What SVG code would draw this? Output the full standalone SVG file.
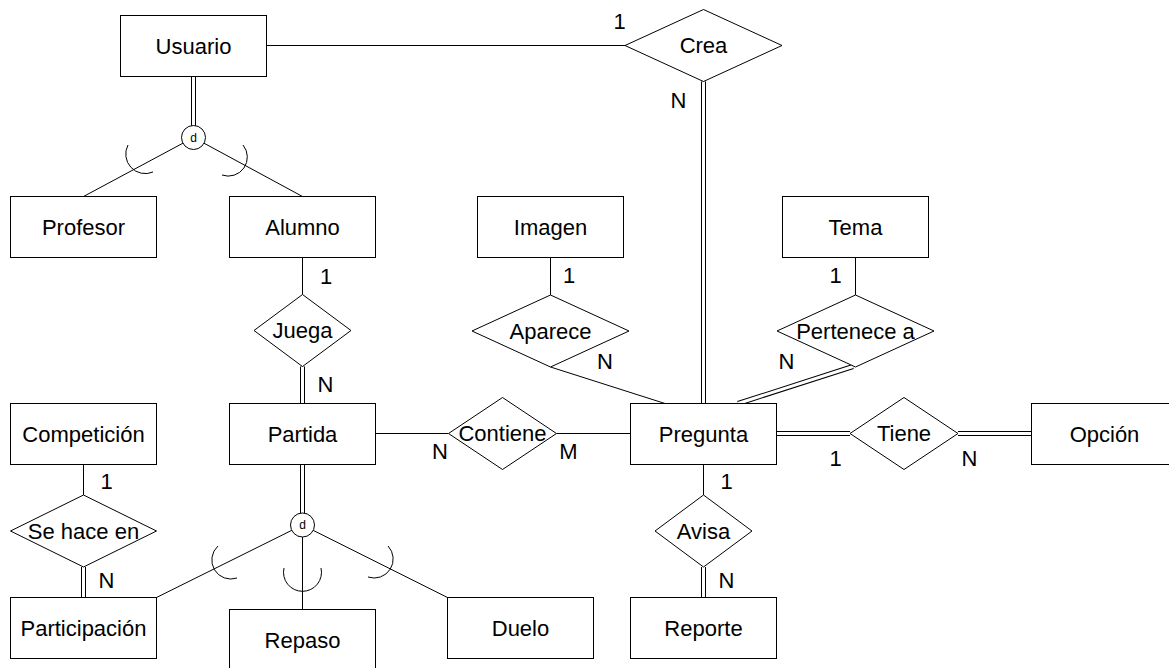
<svg xmlns="http://www.w3.org/2000/svg" width="1169" height="668" viewBox="0 0 1169 668">
  <style>
    .ent { fill: #ffffff; stroke: #000000; stroke-width: 1; }
    .rel { fill: #ffffff; stroke: #000000; stroke-width: 1; }
    .disc { fill: #ffffff; stroke: #000000; stroke-width: 1; }
    .ln { fill: none; stroke: #000000; stroke-width: 1; }
    .dbl-out { fill: none; stroke: #000000; stroke-width: 5; stroke-linecap: butt; }
    .dbl-in { fill: none; stroke: #ffffff; stroke-width: 3; stroke-linecap: butt; }
    .arc { fill: none; stroke: #000000; stroke-width: 1; }
    text { font-family: "Liberation Sans", Arial, Helvetica, sans-serif; font-size: 22px; fill: #000000; text-anchor: middle; }
    .small { font-size: 12px; }
  </style>
  <rect width="1169" height="668" fill="#ffffff"/>

  <!-- connectors -->
  <g id="connectors">
    <!-- single participation lines -->
    <line class="ln" x1="266.5" y1="45.5" x2="625" y2="45.5"/>
    <line class="ln" x1="193.5" y1="137.5" x2="83.5" y2="196.5"/>
    <line class="ln" x1="193.5" y1="137.5" x2="302.5" y2="196.5"/>
    <line class="ln" x1="302.5" y1="257.5" x2="302.5" y2="294.5"/>
    <line class="ln" x1="550.5" y1="257.5" x2="550.5" y2="295"/>
    <line class="ln" x1="550.5" y1="367" x2="665" y2="403.5"/>
    <line class="ln" x1="855.5" y1="257.5" x2="855.5" y2="295"/>
    <line class="ln" x1="375.5" y1="433.5" x2="448.5" y2="433.5"/>
    <line class="ln" x1="556.5" y1="433.5" x2="630.5" y2="433.5"/>
    <line class="ln" x1="83.5" y1="464.5" x2="83.5" y2="495"/>
    <line class="ln" x1="703.5" y1="464.5" x2="703.5" y2="495"/>
    <line class="ln" x1="302.5" y1="525" x2="156.5" y2="597.5"/>
    <line class="ln" x1="302.5" y1="525" x2="302.5" y2="609.5"/>
    <line class="ln" x1="302.5" y1="525" x2="447.5" y2="597.5"/>

    <!-- double (total participation) lines -->
    <g id="total-participation">
      <path class="dbl-out" d="M193.5,76.5 V126 M703.5,81.5 V403.5 M302.5,366.5 V403.5 M853,366.5 L738,403.5 M776.5,433.5 H850 M958,433.5 H1031.5 M302.5,464.5 V513.5 M83.5,567 V597.5 M703.5,567 V597.5"/>
      <path class="dbl-in" d="M193.5,76.5 V126 M703.5,81.5 V403.5 M302.5,366.5 V403.5 M853,366.5 L738,403.5 M776.5,433.5 H850 M958,433.5 H1031.5 M302.5,464.5 V513.5 M83.5,567 V597.5 M703.5,567 V597.5"/>
    </g>

    <!-- subset marks on specialization lines -->
    <g id="subset-marks">
      <path class="arc" d="M128,145 A19.5,19.5 0 0 0 153,172"/>
      <path class="arc" d="M243,145 A19,19 0 0 1 222,175"/>
      <path class="arc" d="M218,546 A19,19 0 0 0 237,578"/>
      <path class="arc" d="M284,568 A19,19 0 1 0 321,568"/>
      <path class="arc" d="M388,546 A19,19 0 0 1 368,577"/>
    </g>

    <!-- cardinalities -->
    <g id="cardinalities">
      <text x="619.5" y="29">1</text>
      <text x="678.5" y="107.5">N</text>
      <text x="326" y="284">1</text>
      <text x="325.5" y="391.5">N</text>
      <text x="569" y="282.5">1</text>
      <text x="605" y="369">N</text>
      <text x="835.5" y="282.5">1</text>
      <text x="786.5" y="369">N</text>
      <text x="440" y="459">N</text>
      <text x="568.5" y="459">M</text>
      <text x="835.5" y="465.5">1</text>
      <text x="969.5" y="465.5">N</text>
      <text x="726.5" y="489">1</text>
      <text x="726.5" y="587.5">N</text>
      <text x="106.5" y="489">1</text>
      <text x="106.5" y="587.5">N</text>
    </g>
  </g>

  <!-- entities -->
  <g id="usuario"><rect class="ent" x="120.5" y="15.5" width="146" height="61"/><text x="193.5" y="53.5">Usuario</text></g>
  <g id="profesor"><rect class="ent" x="10.5" y="196.5" width="146" height="61"/><text x="83.5" y="234.5">Profesor</text></g>
  <g id="alumno"><rect class="ent" x="229.5" y="196.5" width="146" height="61"/><text x="302.5" y="234.5">Alumno</text></g>
  <g id="imagen"><rect class="ent" x="477.5" y="196.5" width="146" height="61"/><text x="550.5" y="234.5">Imagen</text></g>
  <g id="tema"><rect class="ent" x="782.5" y="196.5" width="146" height="61"/><text x="855.5" y="234.5">Tema</text></g>
  <g id="competicion"><rect class="ent" x="10.5" y="403.5" width="146" height="61"/><text x="83.5" y="441.5">Competición</text></g>
  <g id="partida"><rect class="ent" x="229.5" y="403.5" width="146" height="61"/><text x="302.5" y="441.5">Partida</text></g>
  <g id="pregunta"><rect class="ent" x="630.5" y="403.5" width="146" height="61"/><text x="703.5" y="441.5">Pregunta</text></g>
  <g id="opcion"><rect class="ent" x="1031.5" y="403.5" width="146" height="61"/><text x="1104.5" y="441.5">Opción</text></g>
  <g id="participacion"><rect class="ent" x="10.5" y="597.5" width="146" height="61"/><text x="83.5" y="635.5">Participación</text></g>
  <g id="repaso"><rect class="ent" x="229.5" y="609.5" width="146" height="61"/><text x="302.5" y="647.5">Repaso</text></g>
  <g id="duelo"><rect class="ent" x="447.5" y="597.5" width="146" height="61"/><text x="520.5" y="635.5">Duelo</text></g>
  <g id="reporte"><rect class="ent" x="630.5" y="597.5" width="146" height="61"/><text x="703.5" y="635.5">Reporte</text></g>

  <!-- relationships -->
  <g id="crea"><polygon class="rel" points="625,45.5 703.5,9.5 782,45.5 703.5,81.5"/><text x="703.5" y="53">Crea</text></g>
  <g id="juega"><polygon class="rel" points="254,330.5 302.5,294.5 351,330.5 302.5,366.5"/><text x="302.5" y="338">Juega</text></g>
  <g id="aparece"><polygon class="rel" points="472,331 550.5,295 629,331 550.5,367"/><text x="550.5" y="338.5">Aparece</text></g>
  <g id="pertenece-a"><polygon class="rel" points="777,331 855.5,295 934,331 855.5,367"/><text x="855.5" y="338.5">Pertenece a</text></g>
  <g id="contiene"><polygon class="rel" points="448.5,433.5 502.5,397.5 556.5,433.5 502.5,469.5"/><text x="502.5" y="441">Contiene</text></g>
  <g id="tiene"><polygon class="rel" points="850,433.5 904,397.5 958,433.5 904,469.5"/><text x="904" y="441">Tiene</text></g>
  <g id="se-hace-en"><polygon class="rel" points="10.5,531 83.5,495 156.5,531 83.5,567"/><text x="83.5" y="538.5">Se hace en</text></g>
  <g id="avisa"><polygon class="rel" points="655,531 703.5,495 752,531 703.5,567"/><text x="703.5" y="538.5">Avisa</text></g>

  <!-- disjoint specialization circles -->
  <g id="disjoint-usuario"><circle class="disc" cx="193.5" cy="137.5" r="12"/><text class="small" x="193.5" y="141.5">d</text></g>
  <g id="disjoint-partida"><circle class="disc" cx="302.5" cy="525" r="12"/><text class="small" x="302.5" y="529">d</text></g>
</svg>
